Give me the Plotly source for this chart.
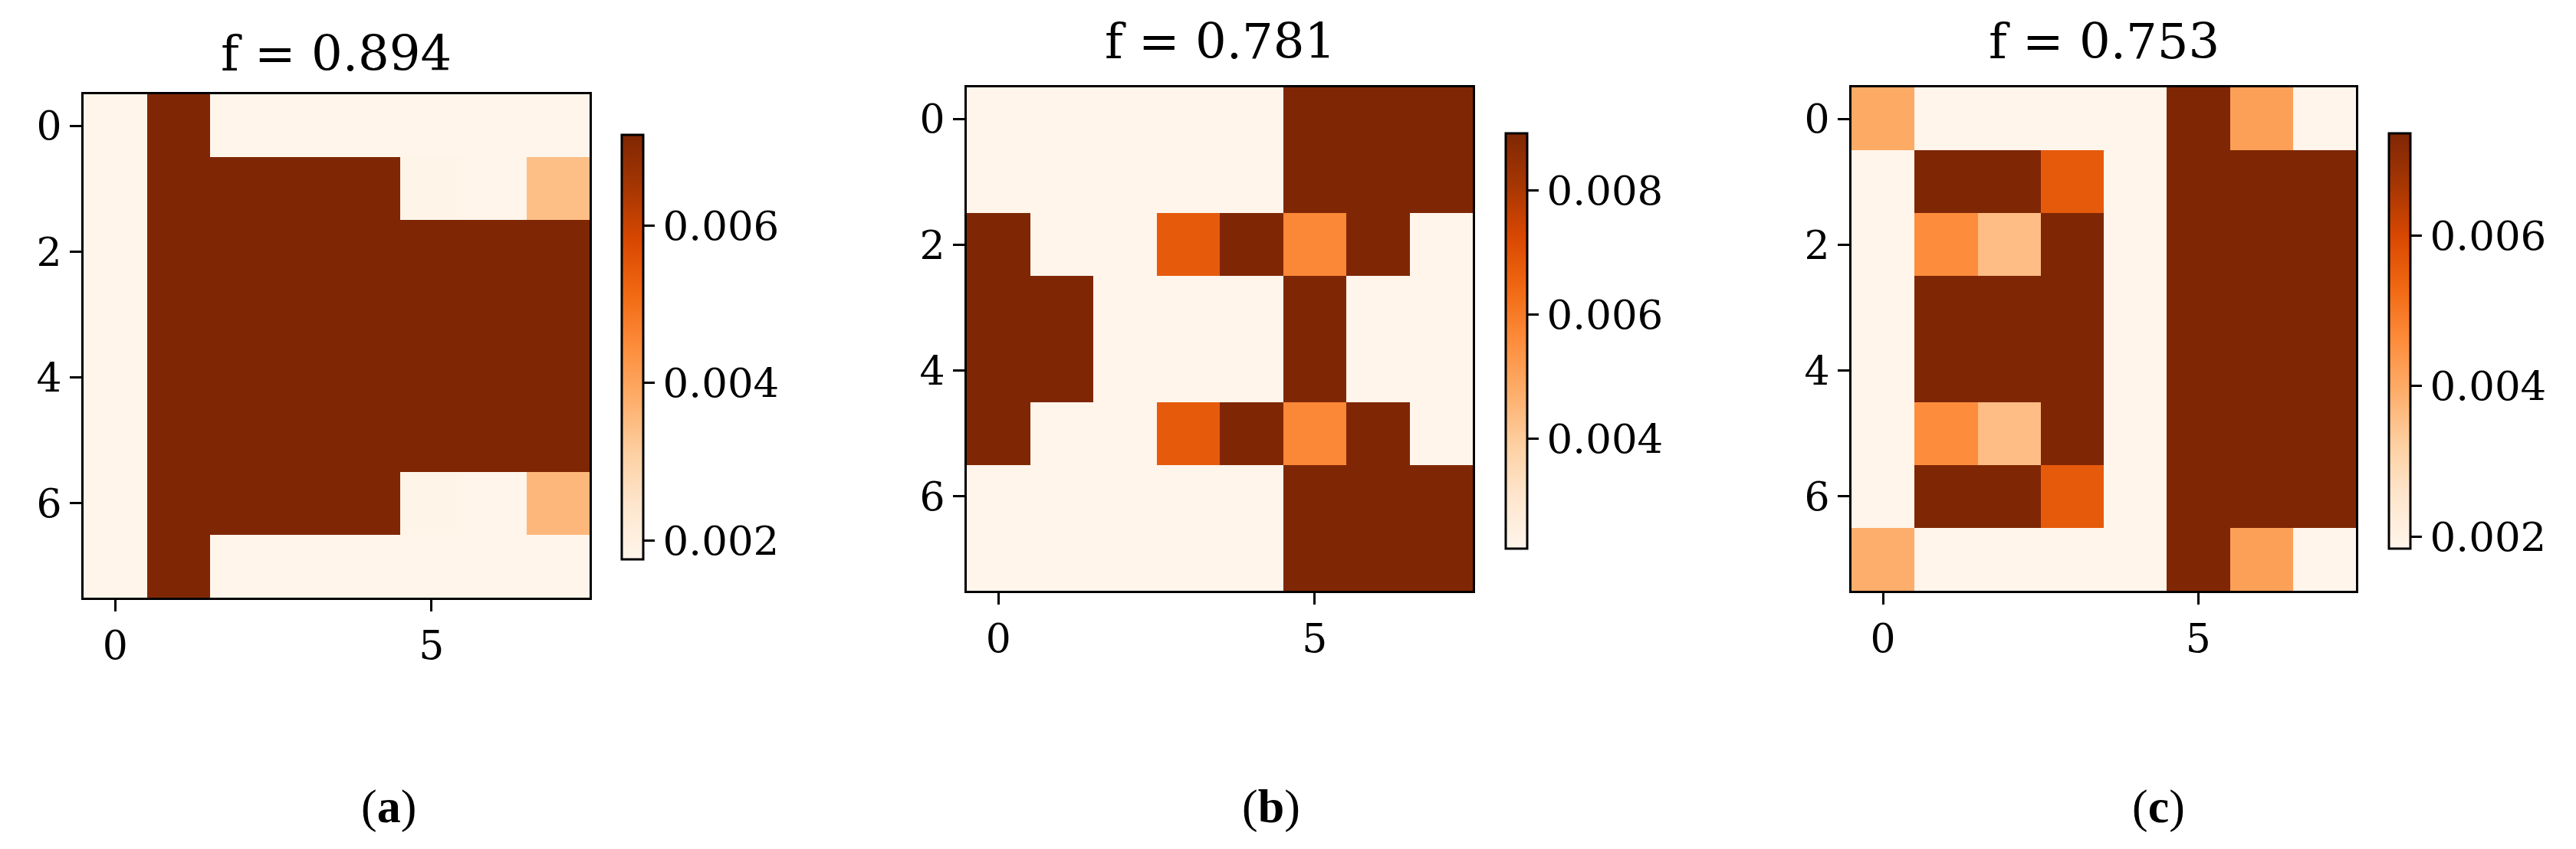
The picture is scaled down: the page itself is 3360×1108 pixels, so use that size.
import plotly.graph_objects as go

# grid indices
idx = [0, 1, 2, 3, 4, 5, 6, 7]

titles = ["f = 0.894", "f = 0.781", "f = 0.753"]
labels = ["(<b>a</b>)", "(<b>b</b>)", "(<b>c</b>)"]

# panel (a)
z_a = [
    [0.00178, 0.00715, 0.00178, 0.00178, 0.00178, 0.00178, 0.00178, 0.00178],
    [0.00178, 0.00715, 0.00715, 0.00715, 0.00715, 0.00182, 0.00178, 0.00345],
    [0.00178, 0.00715, 0.00715, 0.00715, 0.00715, 0.00715, 0.00715, 0.00715],
    [0.00178, 0.00715, 0.00715, 0.00715, 0.00715, 0.00715, 0.00715, 0.00715],
    [0.00178, 0.00715, 0.00715, 0.00715, 0.00715, 0.00715, 0.00715, 0.00715],
    [0.00178, 0.00715, 0.00715, 0.00715, 0.00715, 0.00715, 0.00715, 0.00715],
    [0.00178, 0.00715, 0.00715, 0.00715, 0.00715, 0.00182, 0.00178, 0.00360],
    [0.00178, 0.00715, 0.00178, 0.00178, 0.00178, 0.00178, 0.00178, 0.00178],
]
# panel (b)
z_b = [
    [0.00223, 0.00223, 0.00223, 0.00223, 0.00223, 0.00892, 0.00892, 0.00892],
    [0.00223, 0.00223, 0.00223, 0.00223, 0.00223, 0.00892, 0.00892, 0.00892],
    [0.00892, 0.00223, 0.00223, 0.00680, 0.00892, 0.00570, 0.00892, 0.00223],
    [0.00892, 0.00892, 0.00223, 0.00223, 0.00223, 0.00892, 0.00223, 0.00223],
    [0.00892, 0.00892, 0.00223, 0.00223, 0.00223, 0.00892, 0.00223, 0.00223],
    [0.00892, 0.00223, 0.00223, 0.00680, 0.00892, 0.00570, 0.00892, 0.00223],
    [0.00223, 0.00223, 0.00223, 0.00223, 0.00223, 0.00892, 0.00892, 0.00892],
    [0.00223, 0.00223, 0.00223, 0.00223, 0.00223, 0.00892, 0.00892, 0.00892],
]
# panel (c)
z_c = [
    [0.00400, 0.00184, 0.00184, 0.00184, 0.00184, 0.00736, 0.00420, 0.00184],
    [0.00184, 0.00736, 0.00736, 0.00560, 0.00184, 0.00736, 0.00736, 0.00736],
    [0.00184, 0.00460, 0.00360, 0.00736, 0.00184, 0.00736, 0.00736, 0.00736],
    [0.00184, 0.00736, 0.00736, 0.00736, 0.00184, 0.00736, 0.00736, 0.00736],
    [0.00184, 0.00736, 0.00736, 0.00736, 0.00184, 0.00736, 0.00736, 0.00736],
    [0.00184, 0.00460, 0.00360, 0.00736, 0.00184, 0.00736, 0.00736, 0.00736],
    [0.00184, 0.00736, 0.00736, 0.00560, 0.00184, 0.00736, 0.00736, 0.00736],
    [0.00390, 0.00184, 0.00184, 0.00184, 0.00184, 0.00736, 0.00420, 0.00184],
]

zranges = [(0.00176, 0.00715), (0.00223, 0.00892), (0.00184, 0.00736)]
cb_ticks = [[0.002, 0.004, 0.006], [0.004, 0.006, 0.008], [0.002, 0.004, 0.006]]

W, H = 3360, 1108
# pixel boxes: (left, right, top, bottom) for plots, colorbar (left, top, bottom)
boxes = [(101, 761, 115, 772), (1253, 1913, 106, 763), (2407, 3065, 106, 763)]
cbars = [(803, 158, 732), (1956, 156, 718), (3108, 156, 718)]
title_y = [62, 46, 46]
label_x = [499, 1650, 2807]

FONT = "DejaVu Serif"
fig = go.Figure()

for i, z in enumerate([z_a, z_b, z_c]):
    l, r, t, b = boxes[i]
    cx, ct, cb = cbars[i]
    sfx = "" if i == 0 else str(i + 1)
    fig.add_trace(go.Heatmap(
        z=z, x=idx, y=idx, colorscale="Oranges",
        zmin=zranges[i][0], zmax=zranges[i][1],
        xaxis="x" + sfx, yaxis="y" + sfx,
        colorbar=dict(
            x=cx / W, xanchor="left", xpad=0, thickness=28,
            y=1 - (ct + cb) / 2 / H, yanchor="middle", len=(cb - ct) / H, lenmode="fraction",
            outlinecolor="black", outlinewidth=3,
            tickvals=cb_ticks[i], tickformat=".3f", ticks="outside", ticklen=14,
            tickwidth=3, tickcolor="black",
            tickfont=dict(family=FONT, size=53, color="black"),
        ),
    ))
    ax = dict(showline=True, mirror=True, linecolor="black", linewidth=3,
              ticks="outside", ticklen=15, tickwidth=3, tickcolor="black",
              showgrid=False, zeroline=False,
              tickfont=dict(family=FONT, size=52, color="black"))
    fig.layout["xaxis" + sfx] = dict(ax, domain=[l / W, r / W], range=[-0.5, 7.5],
                                     tickvals=[0, 5], anchor="y" + sfx)
    fig.layout["yaxis" + sfx] = dict(ax, domain=[1 - b / H, 1 - t / H], range=[7.5, -0.5],
                                     tickvals=[0, 2, 4, 6], anchor="x" + sfx)
    fig.add_annotation(text=titles[i], x=(l + r) / 2 / W, y=1 - title_y[i] / H,
                       xref="paper", yref="paper", showarrow=False,
                       xanchor="center", yanchor="middle",
                       font=dict(family=FONT, size=64, color="black"))
    fig.add_annotation(text=labels[i], x=label_x[i] / W, y=1 - 1044 / H,
                       xref="paper", yref="paper", showarrow=False,
                       xanchor="center", yanchor="middle",
                       font=dict(family="Liberation Serif", size=62, color="black"))

fig.update_layout(width=W, height=H, margin=dict(l=0, r=0, t=0, b=0),
                  paper_bgcolor="white", plot_bgcolor="white")

fig.write_html("out.html")
